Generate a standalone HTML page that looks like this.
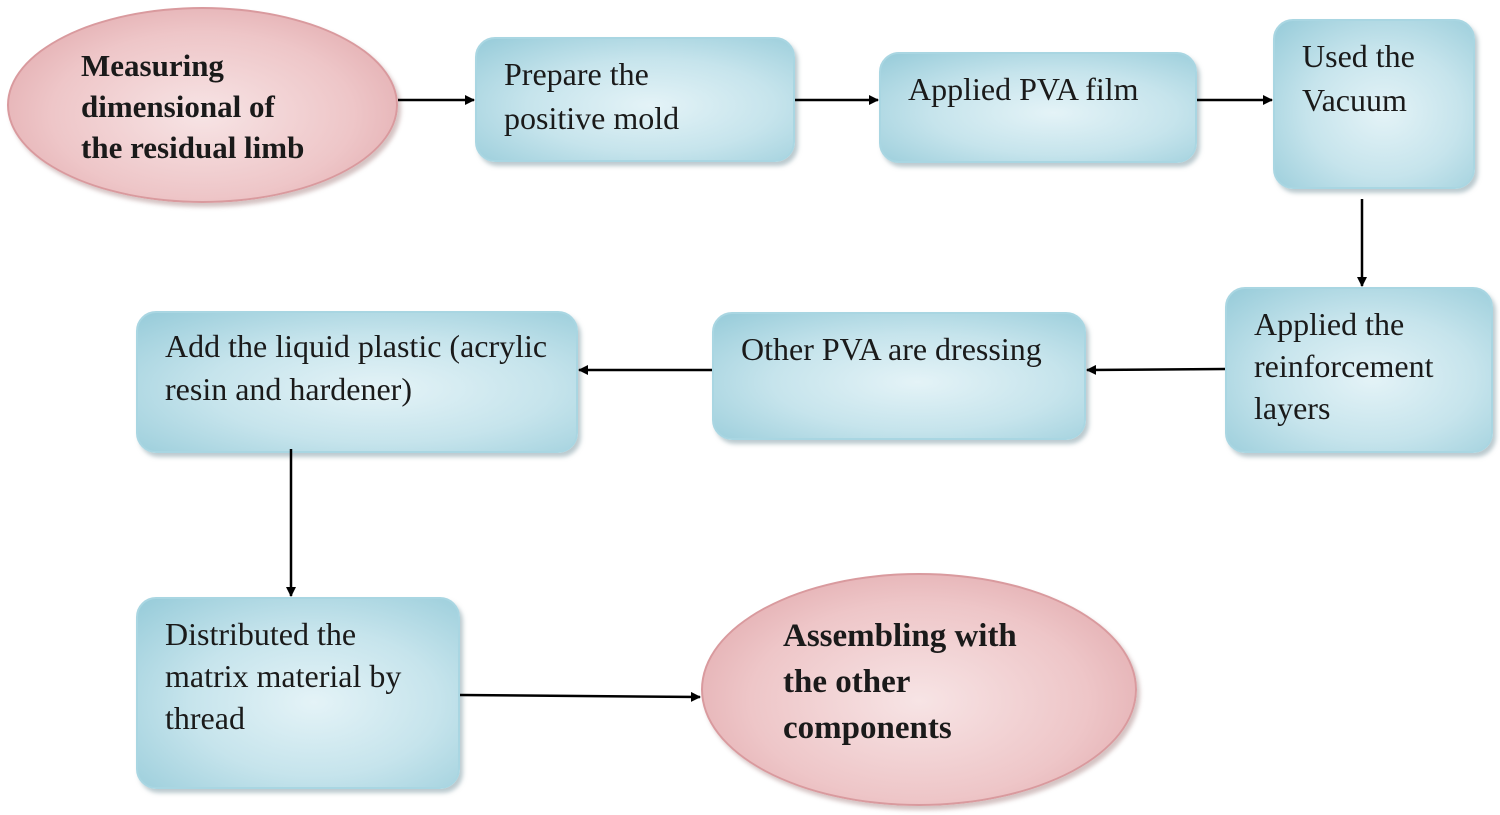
<!DOCTYPE html>
<html><head><style>
body{margin:0;width:1500px;height:815px;background:#fff;position:relative;overflow:hidden;font-family:"Liberation Serif",serif;color:#1a1a1a}
.b{position:absolute;box-sizing:border-box;border-radius:20px;background:radial-gradient(ellipse at 55% 55%,#e4f3f7 0%,#c6e4ec 50%,#96cbd9 100%);border:2px solid #a9d6e2;box-shadow:3px 4px 4px rgba(120,150,160,.5);font-size:32px;line-height:44px;padding-left:27px;white-space:nowrap}
.e{position:absolute;border-radius:50%;background:radial-gradient(ellipse at 50% 55%,#f7e4e5 0%,#eec6c8 55%,#dc9ea2 100%);border:2px solid #d99a9e;box-shadow:3px 4px 4px rgba(160,120,120,.45);font-weight:bold;box-sizing:border-box;white-space:nowrap}
svg{position:absolute;left:0;top:0}
</style></head><body>
<div class="e" style="left:7px;top:7px;width:391px;height:196px;font-size:31px;line-height:41px;padding:36px 0 0 72px">Measuring<br>dimensional of<br>the residual limb</div>
<div class="b" style="left:475px;top:37px;width:320px;height:125px;padding-top:13px">Prepare the<br>positive mold</div>
<div class="b" style="left:879px;top:52px;width:318px;height:111px;padding-top:13px">Applied PVA film</div>
<div class="b" style="left:1273px;top:19px;width:202px;height:170px;padding-top:13px">Used the<br>Vacuum</div>
<div class="b" style="left:1225px;top:287px;width:268px;height:166px;padding-top:14px;line-height:42px">Applied the<br>reinforcement<br>layers</div>
<div class="b" style="left:712px;top:312px;width:374px;height:128px;padding-top:13px">Other PVA are dressing</div>
<div class="b" style="left:136px;top:311px;width:442px;height:142px;padding-top:12px;line-height:43px">Add the liquid plastic (acrylic<br>resin and hardener)</div>
<div class="b" style="left:136px;top:597px;width:324px;height:192px;padding-top:14px;line-height:42px">Distributed the<br>matrix material by<br>thread</div>
<div class="e" style="left:701px;top:573px;width:436px;height:233px;font-size:33px;line-height:46px;padding:38px 0 0 80px">Assembling with<br>the other<br>components</div>
<svg width="1500" height="815"><defs><marker id="a" markerWidth="10" markerHeight="10" refX="9" refY="5" orient="auto" markerUnits="userSpaceOnUse"><path d="M0,0 L10,5 L0,10z" fill="#000"/></marker></defs>
<g stroke="#000" stroke-width="2.5" marker-end="url(#a)">
<line x1="398" y1="100" x2="474" y2="100"/>
<line x1="795" y1="100" x2="878" y2="100"/>
<line x1="1197" y1="100" x2="1272" y2="100"/>
<line x1="1362" y1="199" x2="1362" y2="286"/>
<line x1="1225" y1="369" x2="1087" y2="370"/>
<line x1="712" y1="370" x2="579" y2="370"/>
<line x1="291" y1="449" x2="291" y2="596"/>
<line x1="460" y1="695" x2="700" y2="697"/>
</g></svg>
</body></html>
